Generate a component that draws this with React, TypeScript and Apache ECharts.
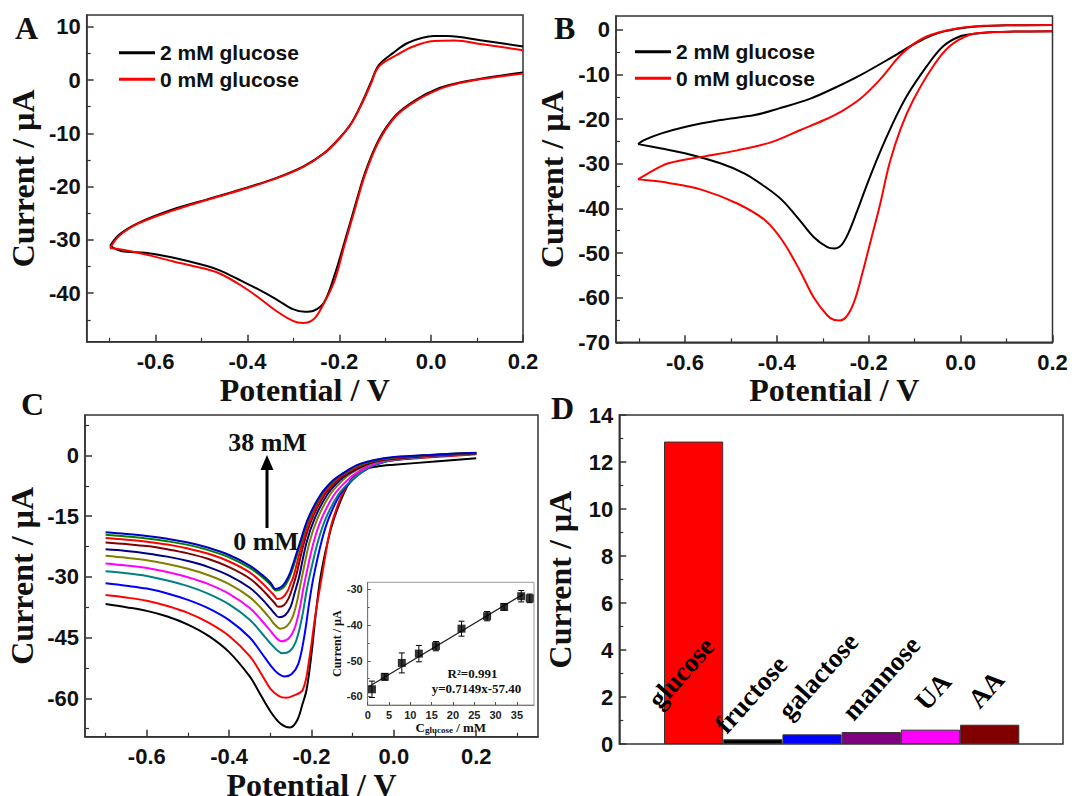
import React, { useEffect, useRef } from "react";
import * as echarts from "echarts";

// ---------- Panel A (CV): forward (oxidation) and reverse (reduction) sweeps ----------
const aBlackFwd: number[][] = [
  [-0.699, -31.1], [-0.679, -29.0], [-0.637, -26.8], [-0.563, -24.3], [-0.488, -22.4], [-0.413, -20.5],
  [-0.338, -18.4], [-0.278, -16.2], [-0.233, -13.7], [-0.203, -11.2], [-0.174, -8.1], [-0.151, -4.3],
  [-0.132, -0.6], [-0.114, 2.8], [-0.084, 5.0], [-0.05, 7.0], [0.006, 8.25], [0.036, 8.25], [0.111, 7.4], [0.2, 6.3],
];
const aBlackRev: number[][] = [
  [0.2, 1.4], [0.111, 0.3], [0.06, -0.5], [0.018, -1.5], [-0.033, -3.7], [-0.077, -6.6], [-0.114, -11.2],
  [-0.144, -17.4], [-0.166, -23.7], [-0.189, -30.5], [-0.211, -36.8], [-0.233, -41.7], [-0.256, -43.3],
  [-0.275, -43.5], [-0.301, -43.0], [-0.338, -41.1], [-0.376, -39.3], [-0.413, -37.7], [-0.458, -35.8],
  [-0.488, -34.9], [-0.563, -33.3], [-0.623, -32.4], [-0.675, -32.1], [-0.699, -31.1],
];
const aRedFwd: number[][] = [
  [-0.699, -31.5], [-0.679, -29.2], [-0.637, -26.9], [-0.563, -24.5], [-0.488, -22.5], [-0.413, -20.6],
  [-0.338, -18.5], [-0.278, -16.3], [-0.233, -13.8], [-0.203, -11.3], [-0.174, -8.2], [-0.151, -4.5],
  [-0.132, -0.9], [-0.114, 2.5], [-0.077, 4.6], [-0.039, 6.3], [0.006, 7.3], [0.051, 7.4], [0.111, 6.7], [0.2, 5.6],
];
const aRedRev: number[][] = [
  [0.2, 1.2], [0.111, 0.2], [0.06, -0.6], [0.018, -1.7], [-0.033, -3.9], [-0.077, -6.8], [-0.114, -11.5],
  [-0.144, -17.8], [-0.166, -24.2], [-0.189, -31.1], [-0.211, -37.8], [-0.236, -42.3], [-0.256, -44.9],
  [-0.279, -45.6], [-0.301, -45.2], [-0.338, -43.3], [-0.376, -40.8], [-0.413, -38.6], [-0.458, -36.4],
  [-0.488, -35.5], [-0.563, -34.0], [-0.623, -32.7], [-0.675, -31.8], [-0.699, -31.5],
];

// ---------- Panel B ----------
const bBlackFwd: number[][] = [
  [-0.702, -25.6], [-0.689, -24.7], [-0.651, -23.2], [-0.598, -21.7], [-0.523, -20.2], [-0.448, -19.1],
  [-0.395, -17.6], [-0.327, -15.4], [-0.27, -12.8], [-0.219, -10.2], [-0.147, -6.0], [-0.089, -2.5],
  [-0.038, -0.4], [0.034, 0.75], [0.1, 1.0], [0.2, 1.1],
];
const bBlackRev: number[][] = [
  [0.2, -0.3], [0.117, -0.4], [0.07, -0.5], [0.03, -0.9], [-0.002, -1.5], [-0.038, -3.7], [-0.074, -8.2],
  [-0.118, -15], [-0.15, -21.5], [-0.18, -28.5], [-0.205, -35], [-0.226, -40.8], [-0.245, -45.7],
  [-0.26, -48.3], [-0.275, -49.0], [-0.29, -48.7], [-0.32, -46.4], [-0.35, -42.7], [-0.388, -38.2],
  [-0.425, -35.2], [-0.47, -32.2], [-0.523, -29.9], [-0.598, -27.7], [-0.651, -26.6], [-0.702, -25.6],
];
const bRedFwd: number[][] = [
  [-0.702, -33.5], [-0.681, -32.2], [-0.636, -29.9], [-0.561, -28.4], [-0.486, -27], [-0.41, -25.1],
  [-0.35, -22.5], [-0.297, -20.2], [-0.26, -18.3], [-0.219, -15.5], [-0.176, -11.2], [-0.125, -5.1],
  [-0.074, -1.5], [-0.002, 0.4], [0.05, 0.9], [0.1, 1.0], [0.2, 1.1],
];
const bRedRev: number[][] = [
  [0.2, -0.3], [0.117, -0.4], [0.06, -0.6], [0.02, -1.1], [-0.024, -3.7], [-0.06, -8.2], [-0.103, -15.7],
  [-0.13, -22], [-0.155, -30], [-0.175, -39], [-0.195, -47], [-0.215, -55], [-0.232, -61], [-0.248, -64.2],
  [-0.262, -65.1], [-0.275, -65], [-0.29, -64], [-0.32, -59.9], [-0.35, -53.9], [-0.388, -47.2],
  [-0.425, -42.7], [-0.486, -38.9], [-0.561, -35.9], [-0.636, -34.3], [-0.681, -33.7], [-0.702, -33.5],
];

// ---------- Panel C (0 mM ... 38 mM) ----------
const c00: number[][] = [[-0.7,-36.7],[-0.65,-37.5],[-0.6,-38.4],[-0.55,-39.8],[-0.5,-41.8],[-0.45,-44.6],[-0.4,-48.6],[-0.35,-54.6],[-0.33,-58],[-0.3,-63.2],[-0.275,-66.3],[-0.252,-67.2],[-0.235,-65.5],[-0.222,-61.5],[-0.212,-57.9],[-0.2,-49],[-0.19,-39.5],[-0.178,-30],[-0.16,-21],[-0.145,-15.5],[-0.12,-9],[-0.1,-5.5],[-0.07,-3.4],[-0.04,-2.7],[0,-2.3],[0.1,-1.5],[0.2,-0.7]];
const c01: number[][] = [[-0.7,-34.5],[-0.65,-35.1],[-0.6,-35.9],[-0.55,-37.2],[-0.5,-38.9],[-0.45,-41.3],[-0.4,-44.6],[-0.35,-49.6],[-0.32,-54.3],[-0.3,-57.6],[-0.28,-59.4],[-0.262,-59.9],[-0.245,-59.4],[-0.221,-57.9],[-0.205,-50],[-0.19,-39],[-0.175,-30],[-0.16,-21],[-0.15,-16.5],[-0.125,-9.5],[-0.1,-5.8],[-0.07,-3],[-0.04,-1.9],[0,-1.2],[0.1,-0.4],[0.2,0.3]];
const c02: number[][] = [[-0.7,-31.6],[-0.65,-32.2],[-0.6,-32.9],[-0.55,-34.1],[-0.5,-35.7],[-0.45,-37.8],[-0.4,-40.7],[-0.35,-45],[-0.32,-49],[-0.3,-51.8],[-0.282,-53.8],[-0.265,-54.6],[-0.248,-54],[-0.232,-51.5],[-0.218,-45],[-0.205,-36],[-0.195,-30],[-0.175,-21],[-0.158,-15.5],[-0.13,-9.5],[-0.1,-6],[-0.08,-4.3],[-0.05,-2.5],[-0.02,-1.5],[0,-1.1],[0.1,-0.2],[0.2,0.4]];
const c03: number[][] = [[-0.7,-28.6],[-0.65,-29.1],[-0.6,-29.8],[-0.55,-30.9],[-0.5,-32.3],[-0.45,-34.2],[-0.4,-36.8],[-0.35,-40.6],[-0.32,-44],[-0.3,-46.4],[-0.285,-48],[-0.27,-48.9],[-0.253,-48.4],[-0.238,-46],[-0.224,-40.5],[-0.212,-33.5],[-0.205,-30],[-0.185,-21.5],[-0.165,-15.5],[-0.135,-9.7],[-0.105,-6.3],[-0.085,-4.6],[-0.055,-2.7],[-0.025,-1.6],[0,-1.1],[0.1,-0.2],[0.2,0.4]];
const c04: number[][] = [[-0.7,-26.7],[-0.65,-27.2],[-0.6,-27.8],[-0.55,-28.8],[-0.5,-30.1],[-0.45,-31.8],[-0.4,-34.2],[-0.35,-37.7],[-0.32,-40.9],[-0.3,-43.3],[-0.287,-44.9],[-0.273,-45.9],[-0.256,-45.3],[-0.242,-43],[-0.23,-38.5],[-0.22,-33],[-0.214,-30],[-0.195,-21.5],[-0.175,-15.5],[-0.145,-9.7],[-0.115,-6.3],[-0.095,-4.6],[-0.06,-2.6],[-0.03,-1.5],[0,-1.0],[0.1,-0.1],[0.2,0.4]];
const c05: number[][] = [[-0.7,-24.8],[-0.65,-25.3],[-0.6,-25.9],[-0.55,-26.8],[-0.5,-28],[-0.45,-29.6],[-0.4,-31.8],[-0.35,-35],[-0.32,-38],[-0.3,-40.4],[-0.29,-41.7],[-0.276,-42.8],[-0.26,-42.2],[-0.247,-40.2],[-0.236,-36.5],[-0.228,-32.5],[-0.223,-30],[-0.205,-21.5],[-0.185,-15.5],[-0.155,-9.7],[-0.125,-6.2],[-0.105,-4.5],[-0.07,-2.6],[-0.035,-1.4],[0,-0.9],[0.1,0],[0.2,0.5]];
const c06: number[][] = [[-0.7,-23.2],[-0.65,-23.6],[-0.6,-24.2],[-0.55,-25],[-0.5,-26.1],[-0.45,-27.6],[-0.4,-29.7],[-0.35,-32.7],[-0.32,-35.5],[-0.3,-37.8],[-0.29,-39],[-0.279,-40],[-0.264,-39.5],[-0.251,-37.5],[-0.241,-34],[-0.234,-31.5],[-0.23,-30],[-0.212,-21.5],[-0.192,-15.5],[-0.162,-9.7],[-0.132,-6.2],[-0.11,-4.5],[-0.075,-2.6],[-0.04,-1.4],[0,-0.8],[0.1,0],[0.2,0.5]];
const c07: number[][] = [[-0.7,-21.5],[-0.65,-21.9],[-0.6,-22.4],[-0.55,-23.2],[-0.5,-24.2],[-0.45,-25.6],[-0.4,-27.6],[-0.35,-30.4],[-0.32,-33.1],[-0.3,-35.3],[-0.29,-36.4],[-0.281,-37.4],[-0.267,-37],[-0.255,-35.2],[-0.245,-32.3],[-0.238,-30],[-0.218,-21.5],[-0.198,-15.5],[-0.168,-9.7],[-0.138,-6.2],[-0.115,-4.5],[-0.08,-2.6],[-0.045,-1.4],[0,-0.7],[0.1,0.1],[0.2,0.6]];
const c08: number[][] = [[-0.7,-20.4],[-0.65,-20.8],[-0.6,-21.3],[-0.55,-22],[-0.5,-23],[-0.45,-24.3],[-0.4,-26.2],[-0.35,-28.9],[-0.32,-31.5],[-0.3,-33.6],[-0.29,-34.7],[-0.283,-35.5],[-0.27,-35.1],[-0.258,-33.5],[-0.25,-31.5],[-0.244,-30],[-0.222,-21.5],[-0.202,-15.5],[-0.172,-9.7],[-0.142,-6.2],[-0.12,-4.5],[-0.085,-2.6],[-0.05,-1.4],[0,-0.6],[0.1,0.1],[0.2,0.6]];
const c09: number[][] = [[-0.7,-19.6],[-0.65,-20],[-0.6,-20.5],[-0.55,-21.2],[-0.5,-22.1],[-0.45,-23.4],[-0.4,-25.2],[-0.35,-27.8],[-0.32,-30],[-0.3,-31.9],[-0.293,-32.8],[-0.286,-33.4],[-0.273,-33],[-0.262,-31.8],[-0.25,-29.3],[-0.226,-21.5],[-0.206,-15.5],[-0.176,-9.7],[-0.146,-6.2],[-0.123,-4.5],[-0.088,-2.5],[-0.05,-1.3],[0,-0.5],[0.1,0.2],[0.2,0.6]];
const c10: number[][] = [[-0.7,-19.0],[-0.65,-19.4],[-0.6,-19.9],[-0.55,-20.6],[-0.5,-21.5],[-0.45,-22.8],[-0.4,-24.6],[-0.35,-27.2],[-0.32,-29.5],[-0.3,-31.4],[-0.294,-32.3],[-0.288,-33],[-0.275,-32.6],[-0.264,-31.4],[-0.252,-29],[-0.228,-21.5],[-0.208,-15.5],[-0.178,-9.7],[-0.148,-6.2],[-0.125,-4.5],[-0.09,-2.4],[-0.05,-1.2],[0,-0.4],[0.1,0.2],[0.2,0.7]];
const cCurves = [c00, c01, c02, c03, c04, c05, c06, c07, c08, c09, c10];
const cColors = ["#000000", "#ff0000", "#0000ff", "#008080", "#ff00ff", "#808000", "#000080", "#800000", "#ff0000", "#008000", "#0000c0"];

// ---------- Inset of C ----------
const insetConc = [1, 4, 8, 12, 16, 22, 28, 32, 36, 38];
const insetCurrent = [-58.0, -54.5, -50.6, -48.0, -45.9, -41.0, -37.5, -34.9, -31.9, -32.5];
const insetErr = [2.3, 0.9, 2.8, 2.3, 1.3, 2.1, 1.3, 0.9, 1.6, 1.2];
const insetFit: number[][] = [[0.3, -57.2], [36.5, -31.3]];

// ---------- Panel D ----------
const dCategories = ["glucose", "fructose", "galactose", "mannose", "UA", "AA"];
const dValues = [12.87, 0.2, 0.41, 0.51, 0.61, 0.82];
const dColors = ["#ff0000", "#000000", "#0000ff", "#800080", "#ff00ff", "#800000"];

// ---------- ticks ----------
const potTicks = [-0.6, -0.4, -0.2, 0, 0.2];
const potMinorAB = [-0.7, -0.5, -0.3, -0.1, 0.1];
const potMinorC = [-0.7, -0.5, -0.3, -0.1, 0.1, 0.3];
const aYTicks = [-40, -30, -20, -10, 0, 10];
const aYMinor = [-45, -35, -25, -15, -5, 5];
const bYTicks = [-70, -60, -50, -40, -30, -20, -10, 0];
const bYMinor = [-65, -55, -45, -35, -25, -15, -5];
const cYTicks = [-60, -45, -30, -15, 0];
const cYMinor = [-67.5, -52.5, -37.5, -22.5, -7.5, 7.5];
const insetXTicks = [0, 5, 10, 15, 20, 25, 30, 35];
const insetYTicks = [-60, -50, -40, -30];
const insetYMinor = [-55, -45, -35];

const SANS = '"Liberation Sans", Arial, sans-serif';
const SERIF = '"Liberation Serif", "Times New Roman", serif';
const AX = "#333";

const tickLbl = { fontFamily: SANS, fontWeight: "bold", fontSize: 22, color: "#111" };
const titleStyle = { fontFamily: SERIF, fontWeight: "bold", fontSize: 32, color: "#111" };

function majorAxis(kind: "x" | "y", grid: number, min: number, max: number, ticks: number[], name: string, nameGap: number, fmt?: (v: number) => string) {
  return {
    type: "value",
    gridIndex: grid,
    position: kind === "x" ? "bottom" : "left",
    min,
    max,
    name,
    nameLocation: "middle",
    nameGap,
    nameTextStyle: titleStyle,
    axisLine: { show: true, onZero: false, lineStyle: { color: AX, width: 1.5 } },
    axisTick: { show: true, inside: true, length: 7, customValues: ticks, lineStyle: { color: AX, width: 1.5 } },
    axisLabel: { show: true, customValues: ticks, margin: kind === "x" ? 9 : 6, formatter: fmt || ((v: number) => String(v)), ...tickLbl },
    splitLine: { show: false },
  };
}
function minorAxis(kind: "x" | "y", grid: number, min: number, max: number, ticks: number[], len = 4) {
  return {
    type: "value",
    gridIndex: grid,
    position: kind === "x" ? "bottom" : "left",
    min,
    max,
    axisLine: { show: false, onZero: false },
    axisTick: { show: true, inside: true, length: len, customValues: ticks, lineStyle: { color: AX, width: 1.2 } },
    axisLabel: { show: false, customValues: ticks },
    splitLine: { show: false },
  };
}

const gridBox = { show: true, borderColor: AX, borderWidth: 1.5, outerBoundsMode: "none", containLabel: false };

function buildOption(): any {
  const fx = (v: number) => v.toFixed(1);
  const lineS = (name: string, data: number[][], color: string, xi: number, yi: number, w = 2, z = 3) => ({
    type: "line", name, data, xAxisIndex: xi, yAxisIndex: yi, showSymbol: false, symbol: "none",
    smooth: 0.35, lineStyle: { color, width: w }, itemStyle: { color }, z,
  });

  const series: any[] = [
    lineS("2 mM glucose", aBlackFwd, "#000000", 0, 0),
    lineS("2 mM glucose", aBlackRev, "#000000", 0, 0),
    lineS("0 mM glucose", aRedFwd, "#ff0000", 0, 0),
    lineS("0 mM glucose", aRedRev, "#ff0000", 0, 0),
    lineS("2 mM glucose", bBlackFwd, "#000000", 2, 2),
    lineS("2 mM glucose", bBlackRev, "#000000", 2, 2),
    lineS("0 mM glucose", bRedFwd, "#ff0000", 2, 2),
    lineS("0 mM glucose", bRedRev, "#ff0000", 2, 2),
    ...cCurves.map((d, i) => lineS("c" + i, d, cColors[i], 4, 4, 2)),
    {
      type: "custom", name: "err", xAxisIndex: 6, yAxisIndex: 6,
      data: insetConc.map((x, i) => [x, insetCurrent[i], insetErr[i]]),
      encode: { x: 0, y: 1 },
      renderItem: (_p: any, api: any) => {
        const x = api.value(0), y = api.value(1), e = api.value(2);
        const t = api.coord([x, y + e]);
        const b = api.coord([x, y - e]);
        const w = 3;
        const st = { stroke: "#000", lineWidth: 1 };
        return {
          type: "group",
          children: [
            { type: "line", shape: { x1: t[0], y1: t[1], x2: b[0], y2: b[1] }, style: st },
            { type: "line", shape: { x1: t[0] - w, y1: t[1], x2: t[0] + w, y2: t[1] }, style: st },
            { type: "line", shape: { x1: b[0] - w, y1: b[1], x2: b[0] + w, y2: b[1] }, style: st },
          ],
        };
      },
      z: 10,
    },
    {
      type: "line", name: "fit", data: insetFit, xAxisIndex: 6, yAxisIndex: 6, showSymbol: false, symbol: "none",
      lineStyle: { color: "#222", width: 1.3 }, z: 10,
    },
    {
      type: "scatter", name: "pts", data: insetConc.map((x, i) => [x, insetCurrent[i]]), xAxisIndex: 6, yAxisIndex: 6,
      symbol: "rect", symbolSize: 8, itemStyle: { color: "#000" }, z: 11,
    },
    {
      type: "bar", name: "sel", xAxisIndex: 8, yAxisIndex: 9,
      data: dValues.map((v, i) => ({ value: v, itemStyle: { color: dColors[i] } })),
      barWidth: "100%", barCategoryGap: "0%",
      itemStyle: { borderColor: "#333", borderWidth: 1 },
    },
  ];

  const legendText = { fontFamily: SANS, fontWeight: "bold", fontSize: 21, color: "#111" };
  const legendBase = {
    data: ["2 mM glucose", "0 mM glucose"], orient: "vertical", icon: "rect",
    itemWidth: 36, itemHeight: 3, itemGap: 5.6, textStyle: legendText, selectedMode: false, padding: 0,
  };

  const T = (text: string, x: number, y: number, size: number, extra: any = {}) => ({
    type: "text", x, y, z: 100,
    style: {
      text, fill: "#111", fontFamily: SERIF, fontWeight: "bold", fontSize: size,
      align: "left", verticalAlign: "middle", ...extra,
    },
  });
  const rot = (Math.PI * 48) / 180;
  const barLbl = (text: string, x: number, y: number) => ({
    type: "text", x, y, rotation: rot, z: 100,
    style: { text, fill: "#000", fontFamily: SERIF, fontWeight: "bold", fontSize: 27, align: "left", verticalAlign: "bottom" },
  });

  return {
    animation: false,
    backgroundColor: "#ffffff",
    grid: [
      { ...gridBox, left: 86.7, top: 15, width: 436.3, height: 326.7 },
      { ...gridBox, left: 616, top: 16, width: 436.5, height: 326.3 },
      { ...gridBox, left: 85, top: 415, width: 453, height: 321.7 },
      { ...gridBox, left: 367.7, top: 582.3, width: 166.3, height: 122.7, borderColor: "#999", borderWidth: 1, backgroundColor: "#fff" },
      { ...gridBox, left: 619.3, top: 415, width: 443.7, height: 329 },
      { show: false, left: 664, top: 415, width: 355.3, height: 329, outerBoundsMode: "none" },
    ],
    xAxis: [
      majorAxis("x", 0, -0.75, 0.2, potTicks, "Potential / V", 30, fx),
      minorAxis("x", 0, -0.75, 0.2, potMinorAB),
      majorAxis("x", 1, -0.75, 0.2, potTicks, "Potential / V", 30, fx),
      minorAxis("x", 1, -0.75, 0.2, potMinorAB),
      majorAxis("x", 2, -0.75, 0.35, potTicks, "Potential / V", 27.5, fx),
      minorAxis("x", 2, -0.75, 0.35, potMinorC),
      {
        type: "value", gridIndex: 3, position: "bottom", min: 0, max: 39,
        name: "{c|C}{s|glucose}{c| / mM}", nameLocation: "middle", nameGap: 13,
        nameTextStyle: {
          rich: {
            c: { fontFamily: SERIF, fontWeight: "bold", fontSize: 13, color: "#111" },
            s: { fontFamily: SERIF, fontWeight: "bold", fontSize: 9, color: "#111", padding: [6, 0, 0, 0] },
          },
        },
        axisLine: { show: true, onZero: false, lineStyle: { color: "#777", width: 1 } },
        axisTick: { show: true, inside: true, length: 3, customValues: insetXTicks, lineStyle: { color: "#555" } },
        axisLabel: { customValues: insetXTicks, margin: 4, fontFamily: SANS, fontWeight: "bold", fontSize: 11, color: "#222" },
        splitLine: { show: false },
      },
      { type: "value", gridIndex: 4, min: 0, max: 1, show: false },
      { type: "category", gridIndex: 5, data: dCategories, show: false, boundaryGap: true },
    ],
    yAxis: [
      majorAxis("y", 0, -49.1, 12.2, aYTicks, "Current / \u00b5A", 47.5),
      minorAxis("y", 0, -49.1, 12.2, aYMinor),
      majorAxis("y", 1, -70, 3.1, bYTicks, "Current / \u00b5A", 48),
      minorAxis("y", 1, -70, 3.1, bYMinor),
      majorAxis("y", 2, -69.5, 10, cYTicks, "Current / \u00b5A", 47),
      minorAxis("y", 2, -69.5, 10, cYMinor),
      {
        type: "value", gridIndex: 3, position: "left", min: -62.4, max: -28,
        name: "Current / \u00b5A", nameLocation: "middle", nameGap: 20,
        nameTextStyle: { fontFamily: SERIF, fontWeight: "bold", fontSize: 12, color: "#111" },
        axisLine: { show: true, onZero: false, lineStyle: { color: "#777", width: 1 } },
        axisTick: { show: true, inside: true, length: 3, customValues: insetYTicks, lineStyle: { color: "#555" } },
        axisLabel: { customValues: insetYTicks, margin: 5, fontFamily: SANS, fontWeight: "bold", fontSize: 11, color: "#222" },
        splitLine: { show: false },
      },
      {
        type: "value", gridIndex: 3, position: "left", min: -62.4, max: -28,
        axisLine: { show: false, onZero: false },
        axisTick: { show: true, inside: true, length: 2, customValues: insetYMinor, lineStyle: { color: "#555" } },
        axisLabel: { show: false, customValues: insetYMinor },
        splitLine: { show: false },
      },
      {
        type: "value", gridIndex: 4, position: "left", min: 0, max: 14, interval: 2,
        name: "Current / \u00b5A", nameLocation: "middle", nameGap: 43, nameTextStyle: titleStyle,
        axisLine: { show: true, onZero: false, lineStyle: { color: AX, width: 1.5 } },
        axisTick: { show: true, inside: true, length: 7, lineStyle: { color: AX, width: 1.5 } },
        minorTick: { show: true, splitNumber: 2, length: 4, lineStyle: { color: AX, width: 1.2 } },
        axisLabel: { margin: 6, ...tickLbl },
        splitLine: { show: false },
        minorSplitLine: { show: false },
      },
      { type: "value", gridIndex: 5, min: 0, max: 14, show: false },
    ],
    legend: [
      { ...legendBase, left: 119, top: 42.2 },
      { ...legendBase, left: 635, top: 41.2 },
    ],
    series,
    graphic: [
      T("A", 15, 27.5, 32),
      T("B", 554, 27.5, 32),
      T("C", 21, 404, 32),
      T("D", 551, 407.5, 32),
      T("38 mM", 267.5, 442, 26, { align: "center" }),
      T("0 mM", 266, 541, 26, { align: "center" }),
      { type: "line", z: 100, shape: { x1: 267, y1: 528, x2: 267, y2: 467 }, style: { stroke: "#000", lineWidth: 3 } },
      { type: "polygon", z: 100, shape: { points: [[260.5, 470], [273.5, 470], [267, 455]] }, style: { fill: "#000" } },
      T("R\u00b2=0.991", 472.5, 673, 13, { align: "center" }),
      T("y=0.7149x-57.40", 476.5, 688, 13, { align: "center" }),
      barLbl("glucose", 663, 713),
      barLbl("fructose", 730, 738),
      barLbl("galactose", 793, 724),
      barLbl("mannose", 857, 725),
      barLbl("UA", 930, 715),
      barLbl("AA", 983, 713),
    ],
  };
}

export default function App() {
  const ref = useRef<HTMLDivElement>(null);
  useEffect(() => {
    if (!ref.current) return;
    const chart = echarts.init(ref.current, undefined, { renderer: "svg" });
    chart.setOption(buildOption());
    return () => chart.dispose();
  }, []);
  return (
    <div
      ref={ref}
      style={{ position: "fixed", left: 0, top: 0, width: 1072, height: 796, background: "#fff" }}
    />
  );
}
